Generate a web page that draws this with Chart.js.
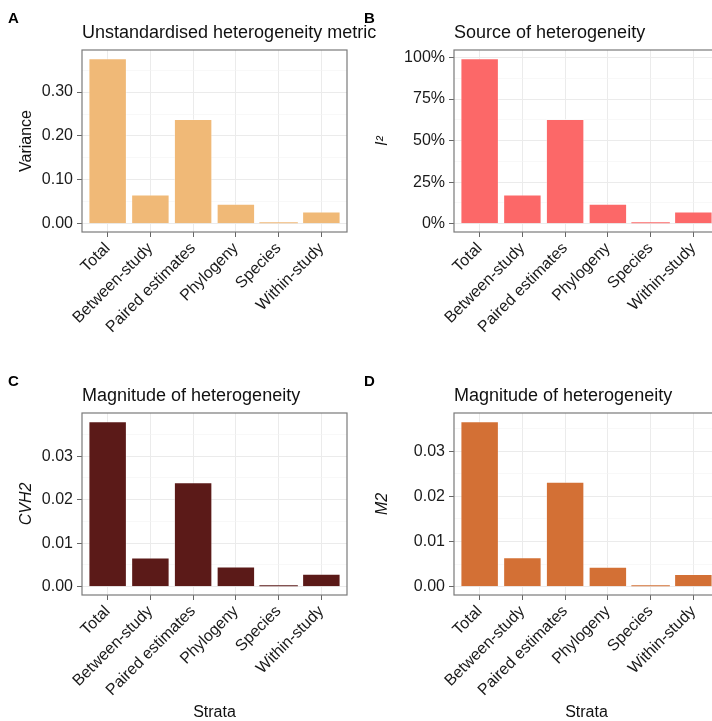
<!DOCTYPE html>
<html>
<head>
<meta charset="utf-8">
<script src="https://cdn.jsdelivr.net/npm/chart.js@4.4.1/dist/chart.umd.min.js"></script>
<style>
  html, body { margin: 0; padding: 0; background: #fff; width: 712px; height: 721px; overflow: hidden; }
  .panel { position: absolute; }
  canvas { display: block; }
</style>
</head>
<body>
<div class="panel" style="left:0;top:0"><canvas id="chartA" width="400" height="363"></canvas></div>
<div class="panel" style="left:356px;top:0"><canvas id="chartB" width="372" height="363"></canvas></div>
<div class="panel" style="left:0;top:363px"><canvas id="chartC" width="400" height="360"></canvas></div>
<div class="panel" style="left:356px;top:363px"><canvas id="chartD" width="372" height="360"></canvas></div>
<script>
// categories shared by all four panels
var strata = ['Total', 'Between-study', 'Paired estimates', 'Phylogeny', 'Species', 'Within-study'];

// A: unstandardised variance
var variance = [0.377, 0.0666, 0.2386, 0.0455, 0.0015, 0.028];
var varianceTicks = [0, 0.1, 0.2, 0.3];
var varianceTickLabels = ['0.00', '0.10', '0.20', '0.30'];

// B: I2 (percent)
var i2 = [99.5, 17.6, 63.0, 12.0, 0.4, 7.4];
var i2Ticks = [0, 25, 50, 75, 100];
var i2TickLabels = ['0%', '25%', '50%', '75%', '100%'];

// C: CVH2
var cvh2 = [0.0380, 0.00673, 0.0240, 0.00467, 0.0001, 0.00297];
// D: M2
var m2 = [0.0366, 0.0065, 0.0232, 0.0044, 0.0001, 0.0028];
var magnitudeTicks = [0, 0.01, 0.02, 0.03];
var magnitudeTickLabels = ['0.00', '0.01', '0.02', '0.03'];

Chart.defaults.font.family = '"Liberation Sans", Arial, Helvetica, sans-serif';
Chart.defaults.color = '#1a1a1a';

var panelText = {
  id: 'panelText',
  afterDraw: function (chart, args, opts) {
    var ctx = chart.ctx;
    ctx.save();
    ctx.fillStyle = '#000';
    ctx.textBaseline = 'alphabetic';
    ctx.textAlign = 'left';
    ctx.font = 'bold 15px "Liberation Sans", Arial, sans-serif';
    ctx.fillText(opts.letter, 8, 23);
    ctx.fillStyle = '#111';
    ctx.font = '18px "Liberation Sans", Arial, sans-serif';
    ctx.fillText(opts.title, chart.chartArea.left, 38);
    ctx.restore();
  },
  afterDatasetsDraw: function (chart) {
    var a = chart.chartArea;
    var ctx = chart.ctx;
    ctx.save();
    ctx.strokeStyle = '#7a7a7a';
    ctx.lineWidth = 1.2;
    ctx.strokeRect(a.left, a.top, a.right - a.left, a.bottom - a.top);
    ctx.restore();
  }
};

var makeChart = function (id, cfg) {
  var vmax = Math.max.apply(null, cfg.values);
  var step = cfg.ticks[1] - cfg.ticks[0];
  var yMin = -0.05 * vmax;
  var yMax = 1.05 * vmax;

  var tickList = [];
  cfg.ticks.forEach(function (t, i) {
    tickList.push({ value: t, text: cfg.tickLabels[i] });
    var half = t + step / 2;
    if (half < yMax) tickList.push({ value: half, text: '', minor: true });
  });

  var xTitle = cfg.xTitle
    ? { display: true, text: cfg.xTitle, color: '#111', font: { size: 16 }, padding: { top: 0, bottom: 1 } }
    : { display: false };

  new Chart(document.getElementById(id), {
    type: 'bar',
    data: {
      datasets: [{
        data: strata.map(function (s, i) { return { x: i + 1, y: cfg.values[i] }; }),
        backgroundColor: cfg.color,
        borderColor: 'rgba(255,255,255,0.4)',
        // very small bars keep their fill colour instead of a pale outline
        borderWidth: function (c) { return c.raw && c.raw.y < vmax * 0.01 ? 0 : 1; },
        minBarLength: 1.5,
        barPercentage: 0.9,
        categoryPercentage: 1
      }]
    },
    options: {
      responsive: false,
      animation: false,
      layout: { padding: { left: 0, top: 50, right: cfg.padRight, bottom: 0 } },
      plugins: {
        legend: { display: false },
        tooltip: { enabled: false },
        panelText: { letter: cfg.letter, title: cfg.title }
      },
      scales: {
        x: {
          type: 'linear',
          offset: false,
          min: 0.4,
          max: 6.6,
          afterBuildTicks: function (scale) {
            scale.ticks = strata.map(function (s, i) { return { value: i + 1 }; });
          },
          afterFit: function (scale) { scale.height = scale.chart.height - 232; },
          ticks: {
            autoSkip: false,
            minRotation: 45,
            maxRotation: 45,
            padding: 2,
            color: '#1a1a1a',
            font: { size: 16 },
            callback: function (value) { return strata[Math.round(value) - 1]; }
          },
          grid: { offset: false, color: '#EBEBEB', lineWidth: 1, tickLength: 5, tickColor: '#666' },
          border: { display: false },
          title: xTitle
        },
        y: {
          min: yMin,
          max: yMax,
          afterBuildTicks: function (scale) { scale.ticks = tickList.slice(); },
          afterFit: function (scale) { scale.width = cfg.yWidth; },
          ticks: {
            autoSkip: false,
            padding: 4,
            color: '#1a1a1a',
            font: { size: 16 },
            callback: function (value, i, ticks) { return ticks[i].text; }
          },
          grid: {
            color: function (c) { return c.tick && c.tick.minor ? '#F3F3F3' : '#EBEBEB'; },
            lineWidth: function (c) { return c.tick && c.tick.minor ? 0.6 : 1; },
            tickLength: 5,
            tickColor: function (c) { return c.tick && c.tick.minor ? 'rgba(0,0,0,0)' : '#666'; }
          },
          border: { display: false },
          title: {
            display: true,
            text: cfg.yTitle,
            color: '#111',
            font: { size: 16, style: cfg.yItalic ? 'italic' : 'normal' },
            padding: { top: 17, bottom: 0 }
          }
        }
      }
    },
    plugins: [panelText]
  });
};

makeChart('chartA', {
  letter: 'A', title: 'Unstandardised heterogeneity metric', values: variance,
  ticks: varianceTicks, tickLabels: varianceTickLabels, color: '#F0B977',
  yTitle: 'Variance', yItalic: false, yWidth: 82, padRight: 53
});
makeChart('chartB', {
  letter: 'B', title: 'Source of heterogeneity', values: i2,
  ticks: i2Ticks, tickLabels: i2TickLabels, color: '#FC6868',
  yTitle: 'I\u00B2', yItalic: true, yWidth: 98, padRight: 9
});
makeChart('chartC', {
  letter: 'C', title: 'Magnitude of heterogeneity', values: cvh2,
  ticks: magnitudeTicks, tickLabels: magnitudeTickLabels, color: '#5B1A18',
  yTitle: 'CVH2', yItalic: true, yWidth: 82, padRight: 53, xTitle: 'Strata'
});
makeChart('chartD', {
  letter: 'D', title: 'Magnitude of heterogeneity', values: m2,
  ticks: magnitudeTicks, tickLabels: magnitudeTickLabels, color: '#D37035',
  yTitle: 'M2', yItalic: true, yWidth: 98, padRight: 9, xTitle: 'Strata'
});
</script>
</body>
</html>
